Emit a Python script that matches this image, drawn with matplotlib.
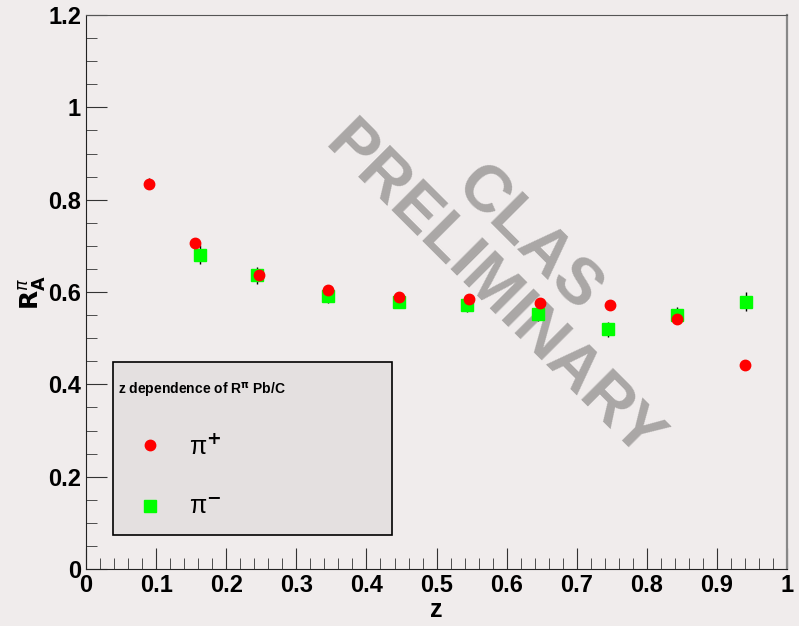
import matplotlib
matplotlib.use("Agg")
import matplotlib.pyplot as plt
from matplotlib.ticker import MultipleLocator
from matplotlib.patches import Rectangle

# Data
z_pip = [0.090, 0.155, 0.247, 0.345, 0.446, 0.546, 0.647, 0.747, 0.843, 0.940]
r_pip = [0.835, 0.707, 0.636, 0.605, 0.590, 0.584, 0.577, 0.571, 0.541, 0.443]
e_pip = [0.012, 0.010, 0.010, 0.010, 0.009, 0.009, 0.009, 0.010, 0.010, 0.010]

z_pim = [0.163, 0.244, 0.345, 0.446, 0.544, 0.645, 0.744, 0.843, 0.941]
r_pim = [0.681, 0.636, 0.592, 0.579, 0.571, 0.553, 0.519, 0.551, 0.579]
e_pim = [0.020, 0.018, 0.015, 0.014, 0.014, 0.016, 0.017, 0.017, 0.020]

plt.rcParams['font.family'] = ['Liberation Sans', 'DejaVu Sans']
bg = "#f0ecec"

fig = plt.figure(figsize=(7.99, 6.26), dpi=100, facecolor=bg)
ax = fig.add_axes([0.1076, 0.091, 0.8776, 0.885])
ax.set_facecolor(bg)

# watermark
ax.text(0.63, 0.595, "CLAS", transform=ax.transAxes, rotation=-45,
        fontsize=47, fontweight="bold", color="#aaa7a6",
        ha="center", va="center", zorder=1)
ax.text(0.58, 0.50, "PRELIMINARY", transform=ax.transAxes, rotation=-45,
        fontsize=47, fontweight="bold", color="#aaa7a6",
        ha="center", va="center", zorder=1)

c_pim = ax.errorbar(z_pim, r_pim, yerr=e_pim, fmt="s", color="#00ff00", ms=8,
                    ecolor="black", elinewidth=1, capsize=0, zorder=3)
c_pip = ax.errorbar(z_pip, r_pip, yerr=e_pip, fmt="o", color="red", ms=7.5,
                    ecolor="black", elinewidth=1, capsize=0, zorder=4)

ax.set_xlim(0, 1)
ax.set_ylim(0, 1.2)
ax.xaxis.set_major_locator(MultipleLocator(0.1))
ax.xaxis.set_minor_locator(MultipleLocator(0.02))
ax.yaxis.set_major_locator(MultipleLocator(0.2))
ax.yaxis.set_minor_locator(MultipleLocator(0.05))
ax.tick_params(which="major", direction="in", length=15, top=False, right=False,
               labelsize=17, color="#333333")
ax.tick_params(which="minor", direction="in", length=8, top=False, right=False,
               color="#333333")
ax.xaxis.set_major_formatter(plt.FuncFormatter(lambda v, p: f"{v:g}"))
ax.yaxis.set_major_formatter(plt.FuncFormatter(lambda v, p: f"{v:g}"))
for lab in ax.get_xticklabels() + ax.get_yticklabels():
    lab.set_fontweight("bold")

ax.spines["top"].set_color("#555555")
ax.spines["right"].set_color("#888888")
ax.spines["right"].set_linewidth(1.6)
ax.spines["left"].set_color("#222222")
ax.spines["bottom"].set_color("#222222")

ax.set_xlabel("z", fontsize=18, fontweight="bold", labelpad=1)
ax.set_ylabel(r"$\mathbf{R}_{\mathbf{A}}^{\pi}$", fontsize=18, labelpad=0)

# legend box
box = Rectangle((0.0385, 0.061), 0.398, 0.312, transform=ax.transAxes,
                facecolor="#e4e0e0", edgecolor="black", lw=1.2, zorder=5)
ax.add_patch(box)
ax.text(0.046, 0.322, r"z dependence of R$^{\mathbf{\pi}}$ Pb/C",
        transform=ax.transAxes, fontsize=10, fontweight="bold",
        ha="left", va="center", zorder=6)
leg = ax.legend([c_pip[0], c_pim[0]], ["π$^{\\mathbf{+}}$", "π$^{\\mathbf{-}}$"],
                loc="center left", bbox_to_anchor=(0.0556, 0.1667),
                fontsize=18, frameon=False, labelspacing=1.45, borderpad=0,
                handlelength=2.0, handletextpad=0.55, borderaxespad=0)
leg.set_zorder(7)

fig.savefig("out.png", dpi=100, facecolor=bg)
